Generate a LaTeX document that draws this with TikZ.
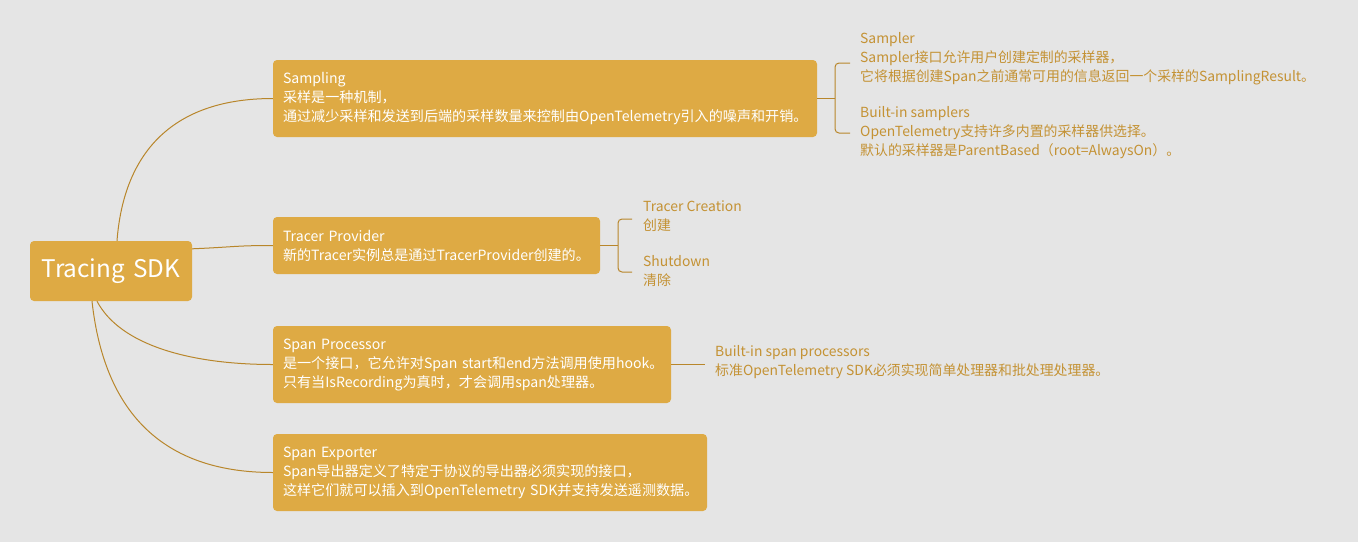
\documentclass[tikz,border=0pt]{standalone}
\usepackage{fontspec}
\setmainfont{Noto Sans CJK SC}
\definecolor{bgc}{RGB}{229,229,229}
\definecolor{boxc}{RGB}{222,170,68}
\definecolor{linec}{RGB}{184,134,43}
\definecolor{sidec}{RGB}{196,146,52}
\newcommand{\oneline}[1]{\mbox{#1}}
\tikzset{
  box/.style={fill=boxc, rounded corners=4pt, inner xsep=10pt, inner ysep=0pt, align=left, text=white, font=\fontsize{14.1}{19}\selectfont},
  side/.style={anchor=west, inner xsep=5pt, inner ysep=0pt, align=left, text=sidec, font=\fontsize{13.9}{19}\selectfont},
  conn/.style={draw=linec, line width=1pt},
}
\begin{document}
\begin{tikzpicture}[x=1pt,y=-1pt]
\fill[bgc] (0,0) rectangle (1358,542);
\useasboundingbox (0,0) rectangle (1358,542);

\node[box, text width=142pt, minimum height=60pt, align=center, font=\fontsize{24.3}{28}\selectfont] (root) at (111,271) {Tracing SDK};
\node[box, text width=524pt, minimum height=77pt] (samp) at (545,98.5) {\oneline{Sampling}\\\oneline{采样是一种机制，}\\\oneline{通过减少采样和发送到后端的采样数量来控制由OpenTelemetry引入的噪声和开销。}};
\node[box, text width=307pt, minimum height=57pt] (trac) at (436.5,245.5) {\oneline{Tracer Provider}\\\oneline{新的Tracer实例总是通过TracerProvider创建的。}};
\node[box, text width=378pt, minimum height=77pt] (proc) at (472,364.5) {\oneline{Span Processor}\\\oneline{是一个接口，它允许对Span start和end方法调用使用hook。}\\\oneline{只有当IsRecording为真时，才会调用span处理器。}};
\node[box, text width=414pt, minimum height=77pt] (expo) at (490,472.5) {\oneline{Span Exporter}\\\oneline{Span导出器定义了特定于协议的导出器必须实现的接口，}\\\oneline{这样它们就可以插入到OpenTelemetry SDK并支持发送遥测数据。}};

% root connectors
\draw[conn] ([xshift=6pt]root.north) .. controls (124,150) and (175,98.5) .. (samp.west);
\draw[conn] ([yshift=-8pt]root.north east) .. controls (235,247) and (235,245.5) .. (trac.west);
\draw[conn] ([xshift=-14pt]root.south) .. controls (120,345) and (190,364.5) .. (proc.west);
\draw[conn] ([xshift=-19pt]root.south) .. controls (105,420) and (170,472.5) .. (expo.west);

% side texts
\node[side] (s1) at (855,59) {Sampler\\Sampler接口允许用户创建定制的采样器，\\它将根据创建Span之前通常可用的信息返回一个采样的SamplingResult。};
\node[side] (s2) at (855,132.5) {Built-in samplers\\OpenTelemetry支持许多内置的采样器供选择。\\默认的采样器是ParentBased（root=AlwaysOn）。};
\node[side] (t1) at (638,216.5) {Tracer Creation\\创建};
\node[side] (t2) at (638,271.5) {Shutdown\\清除};
\node[side] (p1) at (710,362) {Built-in span processors\\标准OpenTelemetry SDK必须实现简单处理器和批处理处理器。};

% brackets
\coordinate (sb) at (835,98.5);
\draw[conn] (samp.east) -- (sb);
\draw[conn, rounded corners=4pt] (850,63) -- (835,63) -- (835,133) -- (850,133);
\coordinate (tb) at (618,245.5);
\draw[conn] (trac.east) -- (tb);
\draw[conn, rounded corners=4pt] (632,219) -- (618,219) -- (618,272) -- (632,272);
\coordinate (pb) at (705,364.5);
\draw[conn] (proc.east) -- (pb);
\end{tikzpicture}
\end{document}
